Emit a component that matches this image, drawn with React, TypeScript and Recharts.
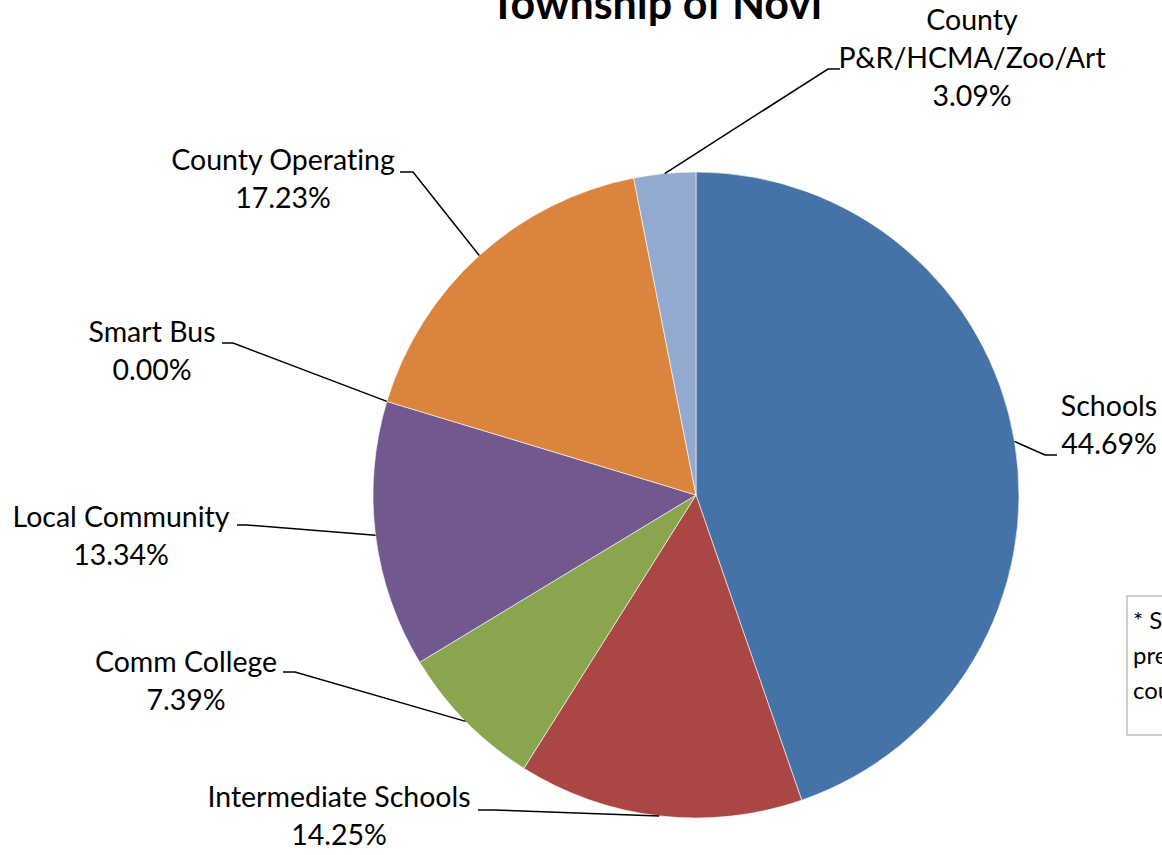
import { PieChart, Pie, Cell } from 'recharts'

const categories = [
  'Schools',
  'Intermediate Schools',
  'Comm College',
  'Local Community',
  'Smart Bus',
  'County Operating',
  'County P&R/HCMA/Zoo/Art',
]
const shares = [44.69, 14.25, 7.39, 13.34, 0.0, 17.23, 3.09]
const labelText = [
  ['Schools'],
  ['Intermediate Schools'],
  ['Comm College'],
  ['Local Community'],
  ['Smart Bus'],
  ['County Operating'],
  ['County', 'P&R/HCMA/Zoo/Art'],
]
const noteLines = ['* Smart Bus millage', 'previously levied by', 'county']
const colors = ['#4572A7', '#AA4643', '#89A54E', '#71588F', '#4198AF', '#DB843D', '#93A9CF']

const data = categories.map((name, i) => ({ name, value: shares[i] }))

// where each label sits: text centre x, first baseline, elbow (kx) and text-side end (hx) of the leader
const labelSpots = [
  { x: 1109, y: 416, kx: 1045, hx: 1057, ky: 455 },
  { x: 339, y: 807, kx: 493, hx: 478, ky: 810 },
  { x: 186, y: 672, kx: 295, hx: 283, ky: 672 },
  { x: 121, y: 527, kx: 247, hx: 237, ky: 525 },
  { x: 152, y: 342, kx: 233, hx: 222, ky: 343 },
  { x: 283, y: 170, kx: 413, hx: 400, ky: 172 },
  { x: 972, y: 30, kx: 828, hx: 840, ky: 69 },
]

const FONT = 'Lato, "Open Sans", sans-serif'
const RAD = Math.PI / 180

function renderLabel(props: any) {
  const { cx, cy, midAngle, outerRadius, index, value } = props
  const ex = cx + outerRadius * Math.cos(-midAngle * RAD)
  const ey = cy + outerRadius * Math.sin(-midAngle * RAD)
  const s = labelSpots[index]
  const lines = [...labelText[index], `${Number(value).toFixed(2)}%`]
  return (
    <g key={`lbl-${index}`}>
      <polyline
        points={`${ex},${ey} ${s.kx},${s.ky} ${s.hx},${s.ky}`}
        fill="none"
        stroke="#000"
        strokeWidth={1.5}
      />
      <text
        x={s.x}
        y={s.y}
        textAnchor="middle"
        fontFamily={FONT}
        fontSize={28.5}
        fill="#000"
        style={{ fontVariantLigatures: 'none' }}
      >
        {lines.map((l, i) => (
          <tspan key={i} x={s.x} y={s.y + i * 37.8}>
            {l}
          </tspan>
        ))}
      </text>
    </g>
  )
}

export default function App() {
  return (
    <div
      style={{
        position: 'fixed',
        left: 0,
        top: 0,
        width: 1162,
        height: 855,
        overflow: 'hidden',
        background: '#fff',
      }}
    >
      <PieChart width={1162} height={855} margin={{ top: 0, right: 0, bottom: 0, left: 0 }}>
        <Pie
          data={data}
          dataKey="value"
          nameKey="name"
          cx={696}
          cy={495}
          outerRadius={323}
          startAngle={90}
          endAngle={-270}
          stroke="#ffffff"
          strokeWidth={0.6}
          label={renderLabel}
          labelLine={false}
          isAnimationActive={false}
        >
          {data.map((d, i) => (
            <Cell key={d.name} fill={colors[i]} />
          ))}
        </Pie>
      </PieChart>

      <svg
        width={1162}
        height={855}
        style={{ position: 'absolute', left: 0, top: 0, pointerEvents: 'none' }}
      >
        <text x={656} y={19} textAnchor="middle" fontFamily={FONT} fontWeight={700} fontSize={43} fill="#000">
          Township of Novi
        </text>
        <rect x={1127} y={596} width={120} height={139} fill="#fff" stroke="#bfbfbf" strokeWidth={1.5} />
        <text fontFamily={FONT} fontSize={24} fill="#000">
          {noteLines.map((l, i) => (
            <tspan key={i} x={1133} y={629 + i * 35}>
              {l}
            </tspan>
          ))}
        </text>
      </svg>
    </div>
  )
}
